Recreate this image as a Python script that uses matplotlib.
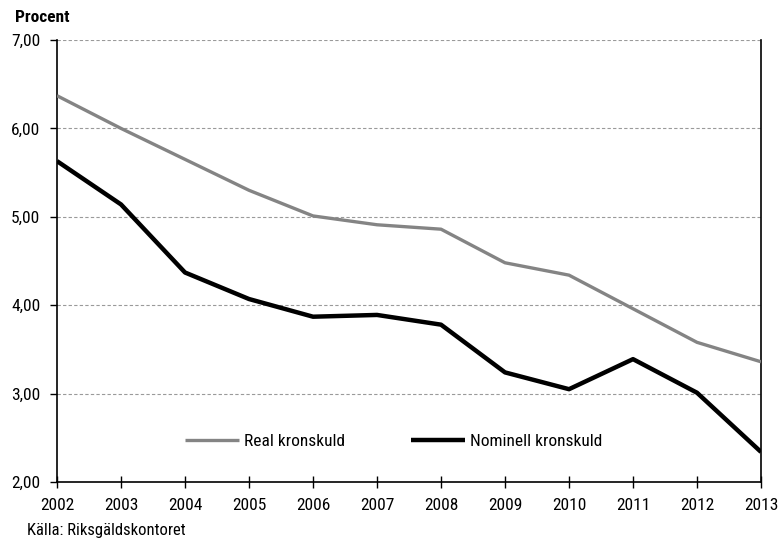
import matplotlib
matplotlib.use("Agg")
import matplotlib.pyplot as plt

years = [2002, 2003, 2004, 2005, 2006, 2007, 2008, 2009, 2010, 2011, 2012, 2013]
real = [6.37, 6.00, 5.65, 5.30, 5.01, 4.91, 4.86, 4.48, 4.34, 3.96, 3.58, 3.36]
nominal = [5.63, 5.14, 4.37, 4.07, 3.87, 3.89, 3.78, 3.24, 3.05, 3.39, 3.01, 2.34]
yticks = [2, 3, 4, 5, 6, 7]
ytick_labels = ["2,00", "3,00", "4,00", "5,00", "6,00", "7,00"]

plt.rcParams["font.family"] = ["Roboto Condensed", "DejaVu Sans"]

fig = plt.figure(figsize=(7.79, 5.46), dpi=100)
ax = fig.add_axes([0.0732, 0.1172, 0.9769 - 0.0732, 0.9267 - 0.1172])

for y in yticks[1:]:
    ax.axhline(y, color="#9a9a9a", lw=0.8, ls=(0, (3, 2)), zorder=1)

l1, = ax.plot(years, real, color="#848484", lw=2.4, label="Real kronskuld", zorder=3, solid_capstyle="butt")
l2, = ax.plot(years, nominal, color="black", lw=3.2, label="Nominell kronskuld", zorder=4, solid_capstyle="butt")

ax.set_xlim(2002, 2013)
ax.set_ylim(2, 7)
ax.set_xticks(years)
ax.set_xticklabels([str(y) for y in years], fontsize=12.5)
ax.set_yticks(yticks)
ax.set_yticklabels(ytick_labels, fontsize=12.5)
ax.tick_params(axis="x", direction="inout", length=9, width=1, pad=7)
ax.tick_params(axis="y", direction="out", length=5, width=1, pad=7)

ax.spines["top"].set_visible(False)
for s in ["left", "right", "bottom"]:
    ax.spines[s].set_linewidth(1.2)

legkw = dict(frameon=False, fontsize=12.5, handlelength=3.1, handletextpad=0.3, borderpad=0,
             borderaxespad=0, loc="center left", bbox_transform=fig.transFigure)
leg1 = ax.legend(handles=[l1], bbox_to_anchor=(185 / 779, 1 - 441 / 546), **legkw)
ax.add_artist(leg1)
leg2 = ax.legend(handles=[l2], bbox_to_anchor=(411 / 779, 1 - 441 / 546), **legkw)

fig.text(15 / 779, 1 - 18 / 546, "Procent", fontsize=12.5, fontweight="bold", va="center", ha="left")
fig.text(27 / 779, 1 - 535 / 546, "Källa: Riksgäldskontoret", fontsize=12, va="baseline", ha="left")

fig.savefig("out.png", dpi=100)
